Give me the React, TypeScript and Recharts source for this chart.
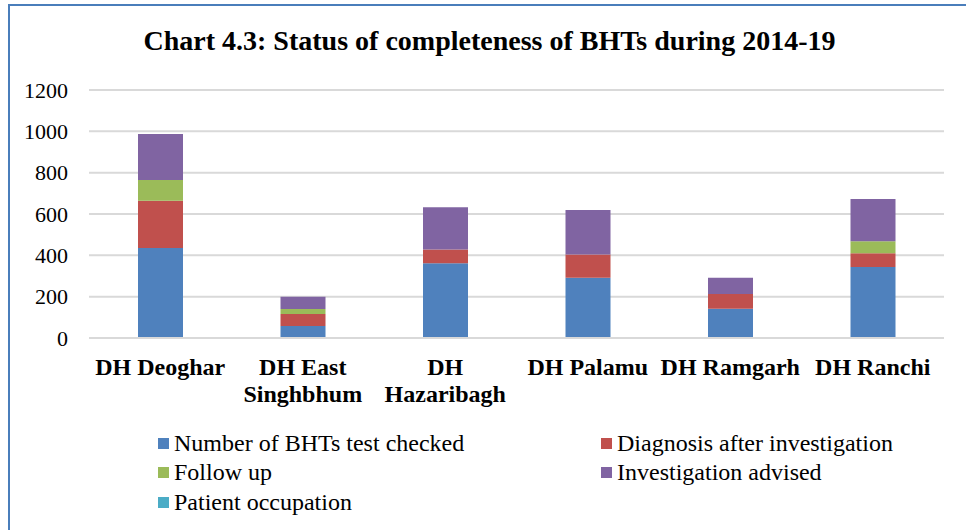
import * as React from 'react';
import { BarChart, Bar, CartesianGrid, XAxis, YAxis, Legend } from 'recharts';

// district hospitals (categories) and how the tick labels wrap
const districts = [
  'DH Deoghar',
  'DH East Singhbhum',
  'DH Hazaribagh',
  'DH Palamu',
  'DH Ramgarh',
  'DH Ranchi'
];
const tickLines = [
  ['DH Deoghar'],
  ['DH East', 'Singhbhum'],
  ['DH', 'Hazaribagh'],
  ['DH Palamu'],
  ['DH Ramgarh'],
  ['DH Ranchi']
];

// series values
const bhtsChecked = [436, 58, 362, 292, 142, 344];
const diagnosis = [228, 58, 66, 112, 71, 66];
const followUp = [100, 24, 0, 0, 0, 58];
const investigation = [223, 60, 205, 215, 79, 204];
const occupation = [0, 0, 0, 0, 0, 0];

const yTicks = [0, 200, 400, 600, 800, 1000, 1200];

const series = [
  { key: 'checked', name: 'Number of BHTs test checked', color: '#4f81bd', values: bhtsChecked },
  { key: 'diagnosis', name: 'Diagnosis after investigation', color: '#c0504d', values: diagnosis },
  { key: 'followUp', name: 'Follow up', color: '#9bbb59', values: followUp },
  { key: 'investigation', name: 'Investigation advised', color: '#8064a2', values: investigation },
  { key: 'occupation', name: 'Patient occupation', color: '#4bacc6', values: occupation }
];

const data = districts.map((d, i) => {
  const row: any = { district: d };
  series.forEach(s => {
    row[s.key] = s.values[i];
  });
  return row;
});

const FONT = '"Liberation Serif", "Times New Roman", serif';

const DistrictTick = (props: any) => {
  const { x, y, payload } = props;
  const lines = tickLines[districts.indexOf(payload.value)] || [payload.value];
  return (
    <text
      x={x}
      y={y}
      textAnchor="middle"
      fontFamily={FONT}
      fontWeight="bold"
      fontSize={24}
      fill="#000"
    >
      {lines.map((l, i) => (
        <tspan key={i} x={x} dy={i === 0 ? 37 : 27}>
          {l}
        </tspan>
      ))}
    </text>
  );
};

// legend positions: two columns, three rows
const legendCols = [158, 601];
const legendRows = [10, 39, 69];

const LegendBox = () => (
  <div style={{ position: 'relative', height: 100, fontFamily: FONT, fontSize: 24 }}>
    {series.map((s, i) => (
      <div
        key={s.key}
        style={{
          position: 'absolute',
          left: legendCols[i % 2],
          top: legendRows[Math.floor(i / 2)],
          display: 'flex',
          alignItems: 'center',
          whiteSpace: 'nowrap',
          color: '#000'
        }}
      >
        <span
          style={{
            display: 'inline-block',
            width: 11,
            height: 11,
            background: s.color,
            marginRight: 5
          }}
        />
        {s.name}
      </div>
    ))}
  </div>
);

export default function App() {
  return (
    <div style={{ position: 'absolute', left: 0, top: 0, width: 966, height: 530, overflow: 'hidden', background: '#fff' }}>
      <div
        style={{
          position: 'absolute',
          left: 8,
          top: 4,
          width: 2000,
          height: 2000,
          borderLeft: '2px solid #4a7ebb',
          borderTop: '2px solid #4a7ebb'
        }}
      />
      <div
        style={{
          position: 'absolute',
          left: 0,
          top: 25,
          width: 979,
          textAlign: 'center',
          fontFamily: FONT,
          fontWeight: 'bold',
          fontSize: 28,
          color: '#000'
        }}
      >
        Chart 4.3: Status of completeness of BHTs during 2014-19
      </div>
      <BarChart
        width={966}
        height={530}
        data={data}
        margin={{ top: 90, right: 22, left: 0, bottom: 10 }}
        barSize={45}
      >
        <CartesianGrid vertical={false} stroke="#d9d9d9" strokeWidth={2} />
        <XAxis
          dataKey="district"
          interval={0}
          height={82}
          tickLine={false}
          tickSize={0}
          tickMargin={0}
          axisLine={{ stroke: '#d9d9d9', strokeWidth: 2 }}
          tick={<DistrictTick />}
        />
        <YAxis
          width={89}
          domain={[0, 1200]}
          ticks={yTicks}
          tickLine={false}
          axisLine={false}
          tickMargin={15}
          tick={{ fontFamily: FONT, fontSize: 22, fill: '#000' }}
        />
        <Legend verticalAlign="bottom" height={100} content={<LegendBox />} />
        {series.map(s => (
          <Bar
            key={s.key}
            dataKey={s.key}
            name={s.name}
            stackId="a"
            fill={s.color}
            isAnimationActive={false}
          />
        ))}
      </BarChart>
    </div>
  );
}
